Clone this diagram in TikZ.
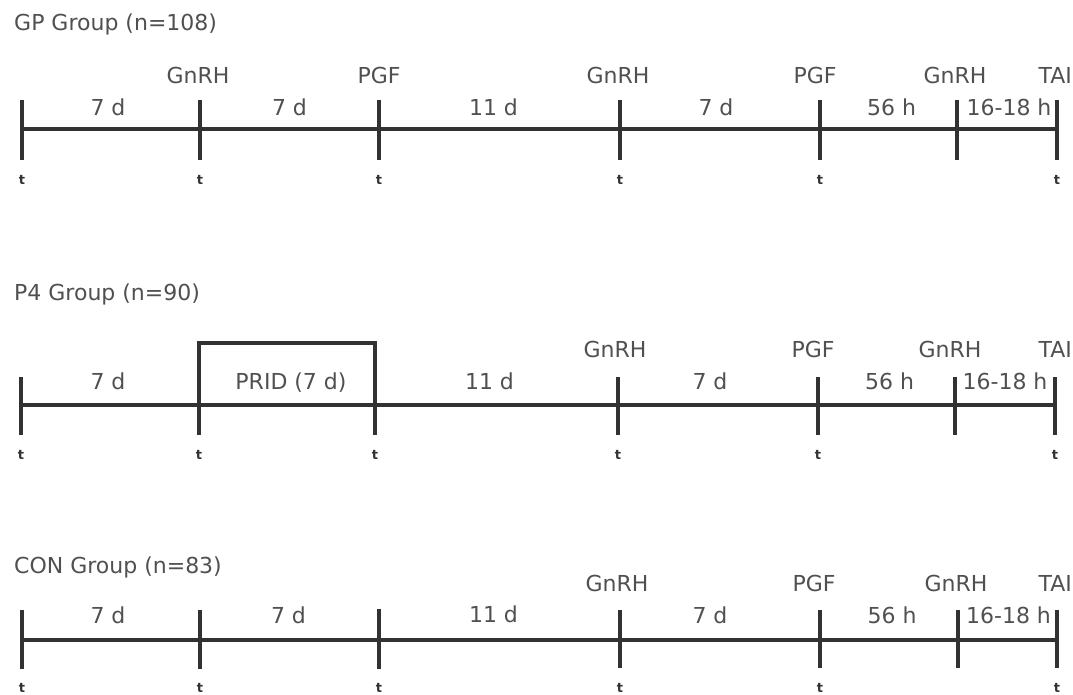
\documentclass[tikz,border=0pt]{standalone}
\usepackage{fontspec}
\setmainfont{DejaVu Sans}
\usetikzlibrary{calc}
\definecolor{linegray}{RGB}{50,50,50}
\definecolor{textgray}{RGB}{80,80,80}

\begin{document}
\begin{tikzpicture}[x=1pt, y=-1pt]
    % Define styles
    \tikzstyle{axis} = [line width=4pt, linegray]
    \tikzstyle{lbl} = [inner sep=0pt, anchor=base, text=textgray, font=\fontsize{22}{26}\selectfont]
    \tikzstyle{title} = [lbl, anchor=base west]
    \tikzstyle{tai} = [lbl, anchor=base east]
    \tikzstyle{sample} = [inner sep=0pt, anchor=base, text=linegray, font=\fontsize{13}{13}\selectfont\bfseries]

    \useasboundingbox (0,0) rectangle (1073,694);

    % GP group
    \node (gp) [title] at (14,30) {GP Group (n=108)};
    \coordinate (gp1) at (22,129);
    \coordinate (gp2) at (200,129);
    \coordinate (gp3) at (379,129);
    \coordinate (gp4) at (620,129);
    \coordinate (gp5) at (820,129);
    \coordinate (gp6) at (957,129);
    \coordinate (gp7) at (1057,129);
    \draw [axis] (gp1) -- (gp7);
    \draw [axis] ([yshift=29pt]gp1) -- ([yshift=-31pt]gp1);
    \draw [axis] ([yshift=29pt]gp2) -- ([yshift=-31pt]gp2);
    \draw [axis] ([yshift=29pt]gp3) -- ([yshift=-31pt]gp3);
    \draw [axis] ([yshift=29pt]gp4) -- ([yshift=-31pt]gp4);
    \draw [axis] ([yshift=29pt]gp5) -- ([yshift=-31pt]gp5);
    \draw [axis] ([yshift=29pt]gp6) -- ([yshift=-31pt]gp6);
    \draw [axis] ([yshift=29pt]gp7) -- ([yshift=-31pt]gp7);
    \node (gp2d) [lbl] at ([xshift=-2pt,yshift=46pt]gp2) {GnRH};
    \node (gp3d) [lbl] at ([yshift=46pt]gp3) {PGF};
    \node (gp4d) [lbl] at ([xshift=-2pt,yshift=46pt]gp4) {GnRH};
    \node (gp5d) [lbl] at ([xshift=-5pt,yshift=46pt]gp5) {PGF};
    \node (gp6d) [lbl] at ([xshift=-2pt,yshift=46pt]gp6) {GnRH};
    \node (gp7d) [tai] at ([xshift=15pt,yshift=46pt]gp7) {TAI};
    \node (gp12) [lbl] at ($(gp1)!0.5!(gp2)+(-3,-14)$) {7 d};
    \node (gp23) [lbl] at ($(gp2)!0.5!(gp3)+(0,-14)$) {7 d};
    \node (gp34) [lbl] at ($(gp3)!0.5!(gp4)+(-6,-14)$) {11 d};
    \node (gp45) [lbl] at ($(gp4)!0.5!(gp5)+(-4,-14)$) {7 d};
    \node (gp56) [lbl] at ($(gp5)!0.5!(gp6)+(3,-14)$) {56 h};
    \node (gp67) [lbl] at ($(gp6)!0.5!(gp7)+(2,-14)$) {16-18 h};
    \node [sample] at ([yshift=-55pt]gp1) {t};
    \node [sample] at ([yshift=-55pt]gp2) {t};
    \node [sample] at ([yshift=-55pt]gp3) {t};
    \node [sample] at ([yshift=-55pt]gp4) {t};
    \node [sample] at ([yshift=-55pt]gp5) {t};
    \node [sample] at ([yshift=-55pt]gp7) {t};

    % P4 group
    \node (p4) [title] at (14,300) {P4 Group (n=90)};
    \coordinate (p41) at (21,405);
    \coordinate (p42) at (199,405);
    \coordinate (p43) at (375,405);
    \coordinate (p44) at (618,405);
    \coordinate (p45) at (818,405);
    \coordinate (p46) at (955,405);
    \coordinate (p47) at (1055,405);
    \draw [axis] (p41) -- (p47);
    \draw [axis] ([yshift=28pt]p41) -- ([yshift=-30pt]p41);
    \draw [axis] ([yshift=-30pt]p42) -- ([yshift=62pt]p42) -| ([yshift=-30pt]p43);
    \draw [axis] ([yshift=28pt]p44) -- ([yshift=-30pt]p44);
    \draw [axis] ([yshift=28pt]p45) -- ([yshift=-30pt]p45);
    \draw [axis] ([yshift=28pt]p46) -- ([yshift=-30pt]p46);
    \draw [axis] ([yshift=28pt]p47) -- ([yshift=-30pt]p47);
    \node (p4prid) [lbl] at ($(p42)!0.5!(p43)+(4,-16)$) {PRID (7 d)};
    \node (p44d) [lbl] at ([xshift=-3pt,yshift=48pt]p44) {GnRH};
    \node (p45d) [lbl] at ([xshift=-5pt,yshift=48pt]p45) {PGF};
    \node (p46d) [lbl] at ([xshift=-5pt,yshift=48pt]p46) {GnRH};
    \node (p47d) [tai] at ([xshift=17pt,yshift=48pt]p47) {TAI};
    \node (p412) [lbl] at ($(p41)!0.5!(p42)+(-2,-16)$) {7 d};
    \node (p434) [lbl] at ($(p43)!0.5!(p44)+(-7,-16)$) {11 d};
    \node (p445) [lbl] at ($(p44)!0.5!(p45)+(-8,-16)$) {7 d};
    \node (p456) [lbl] at ($(p45)!0.5!(p46)+(3,-16)$) {56 h};
    \node (p467) [lbl] at ($(p46)!0.5!(p47)+(0,-16)$) {16-18 h};
    \node [sample] at ([yshift=-54pt]p41) {t};
    \node [sample] at ([yshift=-54pt]p42) {t};
    \node [sample] at ([yshift=-54pt]p43) {t};
    \node [sample] at ([yshift=-54pt]p44) {t};
    \node [sample] at ([yshift=-54pt]p45) {t};
    \node [sample] at ([yshift=-54pt]p47) {t};

    % CON group
    \node (con) [title] at (14,573) {CON Group (n=83)};
    \coordinate (con1) at (22,640);
    \coordinate (con2) at (200,640);
    \coordinate (con3) at (379,640);
    \coordinate (con4) at (620,640);
    \coordinate (con5) at (820,640);
    \coordinate (con6) at (958,640);
    \coordinate (con7) at (1057,640);
    \draw [axis] (con1) -- (con7);
    \draw [axis] ([yshift=30pt]con1) -- ([yshift=-29pt]con1);
    \draw [axis] ([yshift=30pt]con2) -- ([yshift=-29pt]con2);
    \draw [axis] ([yshift=31pt]con3) -- ([yshift=-29pt]con3);
    \draw [axis] ([yshift=30pt]con4) -- ([yshift=-28pt]con4);
    \draw [axis] ([yshift=30pt]con5) -- ([yshift=-28pt]con5);
    \draw [axis] ([yshift=30pt]con6) -- ([yshift=-28pt]con6);
    \draw [axis] ([yshift=30pt]con7) -- ([yshift=-28pt]con7);
    \node (con4d) [lbl] at ([xshift=-3pt,yshift=49pt]con4) {GnRH};
    \node (con5d) [lbl] at ([xshift=-6pt,yshift=49pt]con5) {PGF};
    \node (con6d) [lbl] at ([xshift=-2pt,yshift=49pt]con6) {GnRH};
    \node (con7d) [tai] at ([xshift=15pt,yshift=49pt]con7) {TAI};
    \node (con12) [lbl] at ($(con1)!0.5!(con2)+(-3,-17)$) {7 d};
    \node (con23) [lbl] at ($(con2)!0.5!(con3)+(-1,-17)$) {7 d};
    \node (con34) [lbl] at ($(con3)!0.5!(con4)+(-6,-18)$) {11 d};
    \node (con45) [lbl] at ($(con4)!0.5!(con5)+(-10,-17)$) {7 d};
    \node (con56) [lbl] at ($(con5)!0.5!(con6)+(3,-17)$) {56 h};
    \node (con67) [lbl] at ($(con6)!0.5!(con7)+(1,-17)$) {16-18 h};
    \node [sample] at ([yshift=-52pt]con1) {t};
    \node [sample] at ([yshift=-52pt]con2) {t};
    \node [sample] at ([yshift=-52pt]con3) {t};
    \node [sample] at ([yshift=-52pt]con4) {t};
    \node [sample] at ([yshift=-52pt]con5) {t};
    \node [sample] at ([yshift=-52pt]con7) {t};
\end{tikzpicture}
\end{document}
